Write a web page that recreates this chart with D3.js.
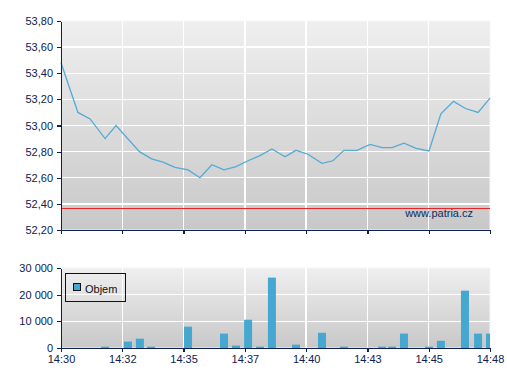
<!DOCTYPE html>
<html><head><meta charset="utf-8">
<script src="https://cdn.jsdelivr.net/npm/d3@7"></script>
<style>
html,body{margin:0;padding:0;background:#fff;}
svg{display:block;font-family:"Liberation Sans",Arial,sans-serif;}
</style></head><body>
<svg id="c" width="507" height="380"></svg>
<script>
// ---- data ----
const xTickLabels = ["14:30","14:32","14:35","14:37","14:40","14:43","14:45","14:48"];
const priceTimes = [0,0.71,1.22,1.85,2.31,3.29,3.80,4.28,4.78,5.33,5.83,6.33,6.84,7.34,7.85,8.35,8.85,9.40,9.86,10.36,10.95,11.41,11.87,12.42,12.97,13.47,13.89,14.39,14.90,15.44,15.94,16.47,16.97,17.50,18.0];
const priceValues = [53.48,53.10,53.05,52.90,53.00,52.80,52.745,52.72,52.68,52.66,52.60,52.70,52.66,52.685,52.73,52.77,52.82,52.76,52.81,52.78,52.71,52.73,52.81,52.81,52.855,52.83,52.83,52.865,52.825,52.805,53.09,53.185,53.13,53.10,53.21];
const refPrice = 52.37;
const volTimes = [1.85,2.81,3.31,3.78,5.33,6.84,7.34,7.85,8.35,8.85,9.86,10.95,11.87,13.47,13.89,14.39,15.44,15.94,16.95,17.50,18.0];
const volValues = [500,2400,3500,500,8000,5400,900,10600,500,26400,1250,5700,500,500,500,5400,500,2700,21500,5400,5400];
const priceTicks = [52.2,52.4,52.6,52.8,53.0,53.2,53.4,53.6,53.8];
const volTicks = [0,10000,20000,30000];
const volTickLabels = ["0","10 000","20 000","30 000"];
const legendLabel = "Objem";
const watermark = "www.patria.cz";

// ---- layout ----
const L = 61, R = 490;
const top1 = 21, bot1 = 230;
const top2 = 268, bot2 = 348;
const navy = "#0c2150";
const svg = d3.select("#c");

const x = d3.scaleLinear().domain([0,18]).range([L,R]);
const xTickVals = xTickLabels.map((d,i)=>i*18/(xTickLabels.length-1));
const y1 = d3.scaleLinear().domain([52.2,53.8]).range([bot1,top1]);
const y2 = d3.scaleLinear().domain([0,30000]).range([bot2,top2]);

const defs = svg.append("defs");
const g = defs.append("linearGradient").attr("id","bg").attr("x1",0).attr("y1",0).attr("x2",0).attr("y2",1);
g.append("stop").attr("offset","0%").attr("stop-color","#efefef");
g.append("stop").attr("offset","100%").attr("stop-color","#c8c8c8");
defs.append("clipPath").attr("id","clip2").append("rect").attr("x",L).attr("y",top2).attr("width",R-L).attr("height",bot2-top2);

function panel(yT, yB, ys, ticks){
  svg.append("rect").attr("x",L).attr("y",yT).attr("width",R-L).attr("height",yB-yT).attr("fill","url(#bg)")
    .attr("stroke","#f3f5fa").attr("stroke-width",1);
  const grid = svg.append("g").attr("stroke","#fff").attr("stroke-width",1.3).attr("shape-rendering","crispEdges");
  grid.selectAll("line.h").data(ticks.slice(1,-1)).enter().append("line")
    .attr("x1",L).attr("x2",R).attr("y1",d=>ys(d)).attr("y2",d=>ys(d));
  grid.selectAll("line.v").data(xTickVals.slice(1,-1)).enter().append("line").attr("class","v")
    .attr("y1",yT).attr("y2",yB).attr("x1",d=>x(d)).attr("x2",d=>x(d));
}
panel(top1,bot1,y1,priceTicks);
panel(top2,bot2,y2,volTicks);

// price line
svg.append("path").datum(priceTimes.map((t,i)=>[t,priceValues[i]]))
  .attr("fill","none").attr("stroke","#53abd6").attr("stroke-width",1.3)
  .attr("d",d3.line().x(d=>x(d[0])).y(d=>y1(d[1])));
// reference line
const ry = Math.round(y1(refPrice)) + 0.5;
svg.append("line").attr("x1",L).attr("x2",R).attr("y1",ry).attr("y2",ry)
  .attr("stroke","#e8242a").attr("stroke-width",1.1);
svg.append("text").attr("x",473).attr("y",ry+8).attr("text-anchor","end")
  .attr("font-size",11).attr("fill","#142a5c").text(watermark);

// bars
svg.append("g").attr("clip-path","url(#clip2)").selectAll("rect").data(volTimes.map((t,i)=>[t,volValues[i]])).enter()
  .append("rect").attr("x",d=>x(d[0])-4).attr("width",8)
  .attr("y",d=>y2(d[1])).attr("height",d=>bot2-y2(d[1])).attr("fill","#46a7d1");

// axes
function styleAxis(sel){
  sel.selectAll("path,line").attr("stroke",navy).attr("stroke-width",1.2).attr("shape-rendering","crispEdges");
  sel.selectAll("text").attr("fill",navy).attr("font-size",11).attr("font-family","'Liberation Sans',Arial,sans-serif");
}
const ay1 = svg.append("g").attr("transform",`translate(${L},0)`)
  .call(d3.axisLeft(y1).tickValues(priceTicks).tickSize(4).tickSizeOuter(0).tickPadding(4)
    .tickFormat(d=>d3.format(".2f")(d).replace(".",",")));
styleAxis(ay1);
const ax1 = svg.append("g").attr("transform",`translate(0,${bot1})`)
  .call(d3.axisBottom(x).tickValues(xTickVals).tickSize(4).tickSizeOuter(0).tickFormat(""));
styleAxis(ax1);
const ay2 = svg.append("g").attr("transform",`translate(${L},0)`)
  .call(d3.axisLeft(y2).tickValues(volTicks).tickSize(4).tickSizeOuter(0).tickPadding(4)
    .tickFormat((d,i)=>volTickLabels[i]));
styleAxis(ay2);
const ax2 = svg.append("g").attr("transform",`translate(0,${bot2})`)
  .call(d3.axisBottom(x).tickValues(xTickVals).tickSize(4).tickSizeOuter(0).tickPadding(3)
    .tickFormat((d,i)=>xTickLabels[i]));
styleAxis(ax2);

// legend
const lg = svg.append("g");
lg.append("rect").attr("x",65.5).attr("y",273.5).attr("width",60).attr("height",28)
  .attr("fill","none").attr("stroke","#111").attr("stroke-width",1);
lg.append("rect").attr("x",73.5).attr("y",283.5).attr("width",7).attr("height",7)
  .attr("fill","#46a7d1").attr("stroke","#111").attr("stroke-width",1);
lg.append("text").attr("x",85).attr("y",292.5).attr("font-size",11).attr("fill","#111").text(legendLabel);
</script>
</body></html>
